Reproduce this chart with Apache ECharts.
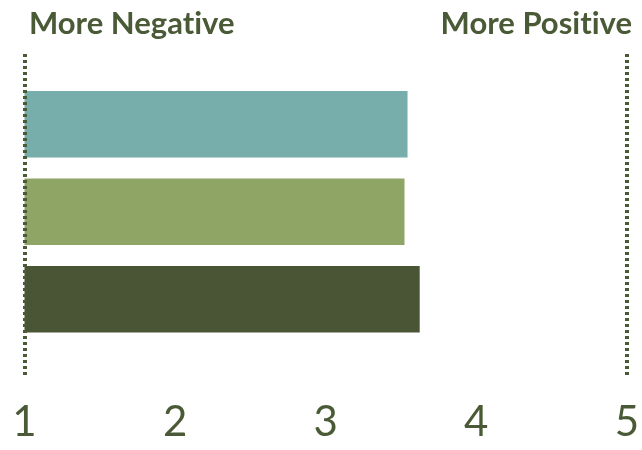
<!DOCTYPE html>
<html>
<head>
<meta charset="utf-8">
<script src="https://cdn.jsdelivr.net/npm/echarts@6/dist/echarts.min.js"></script>
<style>html,body{margin:0;padding:0;background:#fff;}#c{width:642px;height:450px;}</style>
</head>
<body>
<div id="c"></div>
<script>
var categories = ['A', 'B', 'C'];
var values = [3.52, 3.50, 3.60];
var barColors = ['#77ADAA', '#8FA565', '#4A5536'];
var tickLabels = ['1', '2', '3', '4', '5'];
var leftTitle = 'More Negative';
var rightTitle = 'More Positive';
var ink = '#4A5A36';

// break the "ti" ligature of Lato without changing the visible text
function noLig(s) { return s.replace(/ti/g, 't\u200Ci'); }

var chart = echarts.init(document.getElementById('c'));
chart.setOption({
  animation: false,
  grid: [
    {left: 24.5, right: 9.5, top: 80.5, bottom: 107},
    {left: 24.5, right: 9.5, top: 53, bottom: 75}
  ],
  xAxis: [
    {gridIndex: 0, type: 'value', min: 1, max: 5, interval: 1, show: false},
    {gridIndex: 1, type: 'value', min: 1, max: 5, interval: 1,
     axisLine: {show: false}, axisTick: {show: false}, splitLine: {show: false},
     axisLabel: {margin: 26, fontSize: 42, fontWeight: 'normal', fontFamily: 'Lato', color: ink,
       formatter: function (v) { return tickLabels[Math.round(v) - 1]; }}}
  ],
  yAxis: [
    {gridIndex: 0, type: 'category', data: categories, inverse: true, show: false},
    {gridIndex: 1, type: 'value', min: 0, max: 1, show: false}
  ],
  series: [
    {type: 'bar', xAxisIndex: 0, yAxisIndex: 0, barWidth: 66.7,
     data: values.map(function (v, i) { return {value: v, itemStyle: {color: barColors[i]}}; })},
    {type: 'line', xAxisIndex: 1, yAxisIndex: 1, data: [], silent: true,
     markLine: {symbol: 'none', silent: true, label: {show: false},
       lineStyle: {color: ink, width: 4, type: [3, 3], opacity: 1},
       data: [{xAxis: 1}, {xAxis: 5}]}}
  ],
  graphic: [
    {type: 'text', left: 29, top: 8, style: {text: noLig(leftTitle), font: 'bold 31px Lato', fill: ink}},
    {type: 'text', right: 10, top: 8, style: {text: noLig(rightTitle), font: 'bold 31px Lato', fill: ink}}
  ]
});
</script>
</body>
</html>
